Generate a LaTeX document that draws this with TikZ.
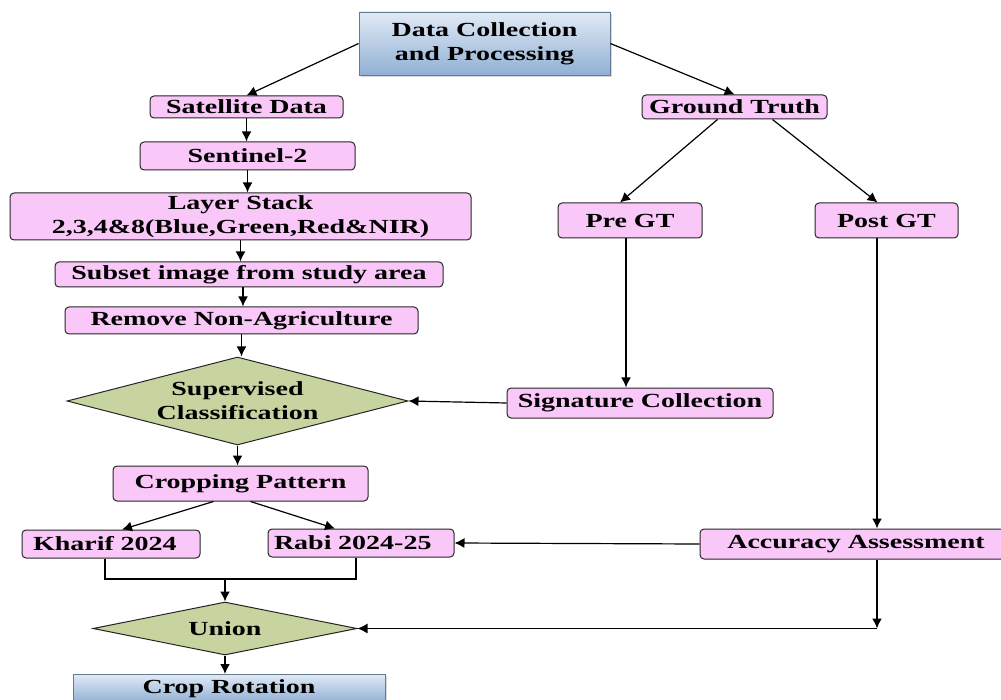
\documentclass[tikz,border=0pt]{standalone}
\usepackage{fontspec}
\setmainfont{Liberation Serif}[FakeStretch=1.4]
\usetikzlibrary{arrows.meta,shapes.geometric,shadows}
\definecolor{boxpink}{RGB}{250,200,248}
\definecolor{leafgreen}{RGB}{200,212,160}
\definecolor{skytop}{RGB}{225,234,245}
\definecolor{skybot}{RGB}{145,176,212}
\tikzstyle{block} = [align=center,draw=black!85,fill=boxpink,rectangle,rounded corners=4pt,line width=1pt,inner sep=0pt,text centered]
\tikzstyle{decision} = [align=center,draw=black!85,fill=leafgreen,diamond,line width=1pt,inner sep=0pt,text centered]
\tikzstyle{phase} = [align=center,draw=skybot!70!black,top color=skytop,bottom color=skybot,rectangle,line width=0.8pt,inner sep=0pt,drop shadow={shadow xshift=2pt,shadow yshift=-2pt,fill=black!30},text centered]

\begin{document}
\begin{tikzpicture}[x=1pt,y=-1pt,line width=1.6pt,>={Latex[length=10pt,width=10pt]},font=\fontsize{20}{24}\selectfont\bfseries]
				\clip (0,0) rectangle (1001,700);
				\node (dcp) [phase,minimum width=251pt,minimum height=63pt] at (484.5,43.5) {Data Collection\\and Processing};
				\node (sat) [block,minimum width=193pt,minimum height=22pt] at (246.5,107) {Satellite Data};
				\node (sen) [block,minimum width=215pt,minimum height=28pt] at (247.5,156) {Sentinel-2};
				\node (stack) [block,minimum width=461pt,minimum height=47pt] at (240.5,216.5) {Layer Stack\\2,3,4\&8(Blue,Green,Red\&NIR)};
				\node (subset) [block,minimum width=388pt,minimum height=25pt] at (249,274.5) {Subset image from study area};
				\node (remove) [block,minimum width=353pt,minimum height=27pt] at (241.5,320.5) {Remove Non-Agriculture};
				\node (sup) [decision,aspect=3.9,minimum width=341pt,minimum height=88pt] at (237.5,401) {Supervised\\Classification};
				\node (pattern) [block,minimum width=255pt,minimum height=35pt] at (240.5,483.5) {Cropping Pattern};
				\node (kharif) [block,align=left,inner xsep=11pt,text width=156pt,minimum height=28pt] at (111,544) {Kharif 2024};
				\node (rabi) [block,align=left,inner xsep=6pt,text width=174pt,minimum height=28pt] at (361,543) {Rabi 2024-25};
				\node (union) [decision,aspect=5,minimum width=264pt,minimum height=53pt] at (225,628.5) {Union};
				\node (rotation) [phase,minimum width=312pt,minimum height=28pt,anchor=north] at (229,674) {Crop Rotation};
				\node (gt) [block,minimum width=185pt,minimum height=24pt] at (734.5,107) {Ground Truth};
				\node (pre) [block,minimum width=144pt,minimum height=35pt] at (630,220.5) {Pre GT};
				\node (post) [block,minimum width=143pt,minimum height=35pt] at (886.5,220.5) {Post GT};
				\node (sig) [block,minimum width=266pt,minimum height=30pt] at (640,403) {Signature Collection};
				\node (acc) [block,minimum width=312pt,minimum height=30pt] at (856,544) {Accuracy Assessment};
				\coordinate (merge) at (225,579);
				\coordinate (bend) at (877,628.5);
				\draw [->,line width=1.2pt] (dcp.west) -- (sat.north);
				\draw [->,line width=1.2pt] (dcp.east) -- (gt.north);
				\draw [->] (sat.south) -- (sat.south |- sen.north);
				\draw [->] (sen.south) -- (sen.south |- stack.north);
				\draw [->] (stack.south) -- (stack.south |- subset.north);
				\draw [->] ([xshift=-6pt]subset.south) -- ([xshift=-6pt]subset.south |- remove.north);
				\draw [->] (remove.south) -- (remove.south |- sup.north);
				\draw [->] (sup.south) -- (sup.south |- pattern.north);
				\draw [->,line width=1.2pt] ([xshift=-27pt]pattern.south) -- ([xshift=11pt]kharif.north);
				\draw [->,line width=1.2pt] ([xshift=10pt]pattern.south) -- ([xshift=-26pt]rabi.north);
				\draw [line width=1.2pt] ([xshift=-6pt]kharif.south) |- (merge) -| ([xshift=-5pt]rabi.south);
				\draw [->] (merge) -- (union.north);
				\draw [->] (union.south) -- (union.south |- rotation.north);
				\draw [->,line width=1.2pt] ([xshift=-17pt]gt.south) -- ([xshift=-10pt]pre.north);
				\draw [->,line width=1.2pt] ([xshift=38pt]gt.south) -- ([xshift=-9pt]post.north);
				\draw [->] ([xshift=-4pt]pre.south) -- ([xshift=-4pt]pre.south |- sig.north);
				\draw [->,line width=1.2pt] (sig.west) -- (sup.east);
				\draw [->] ([xshift=-9.5pt]post.south) -- ([xshift=-9.5pt]post.south |- acc.north);
				\draw [->,line width=1.2pt] (acc.west) -- (rabi.east);
				\draw [->] (acc.south -| bend) -- (bend);
				\draw [->,line width=1.2pt] (bend) -- (union.east);
			\end{tikzpicture}
\end{document}
